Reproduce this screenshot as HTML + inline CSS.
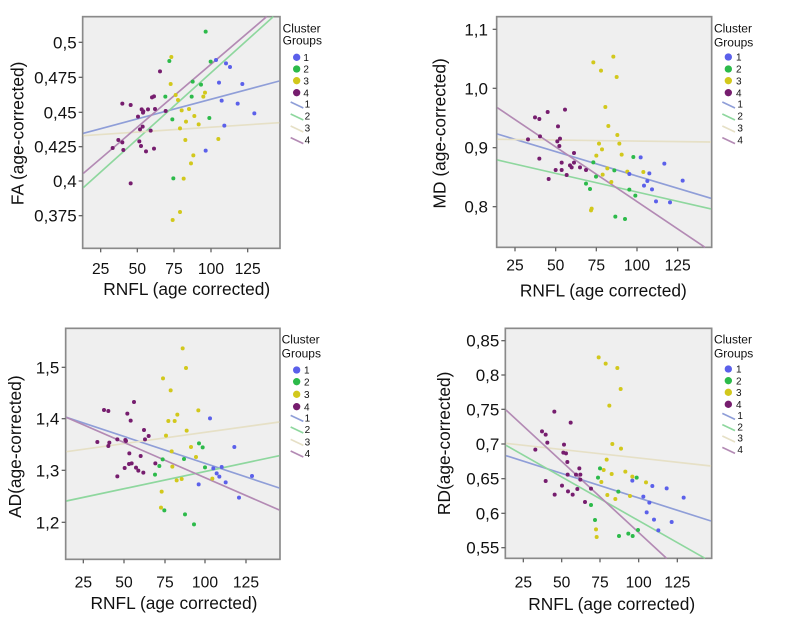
<!DOCTYPE html>
<html><head><meta charset="utf-8"><style>
html,body{margin:0;padding:0;background:#fff;}
svg{display:block;font-family:"Liberation Sans",sans-serif;}
.bx{fill:#efefef;stroke:#8a8a8a;stroke-width:5}
.tk{stroke:#666;stroke-width:4}
.yt{font-size:51px;text-anchor:end;fill:#111}
.xt{font-size:47px;text-anchor:middle;fill:#111}
.ti{font-size:52px;text-anchor:middle;fill:#111}
.lg{font-size:36px;fill:#111}
.ln{font-size:30px;fill:#111}
.b{fill:#5b60ea}.g{fill:#2cba4a}.y{fill:#d2c81c}.p{fill:#761d6e}
.lb{stroke:#8f9ed8;stroke-width:5;fill:none}.lgn{stroke:#8ed79e;stroke-width:5;fill:none}
.ly{stroke:#e6e0c6;stroke-width:5;fill:none}.lp{stroke:#b38ab4;stroke-width:5;fill:none}
</style></head><body>
<svg width="800" height="622" viewBox="0 0 800 622" xmlns="http://www.w3.org/2000/svg">

<!-- Panel 1 FA -->
<g transform="translate(0,0) scale(0.33333)">
<rect class="bx" x="248" y="50" width="592" height="695"/>
<g class="tk"><line x1="236" y1="127" x2="248" y2="127"/><line x1="236" y1="232" x2="248" y2="232"/><line x1="236" y1="337" x2="248" y2="337"/><line x1="236" y1="440" x2="248" y2="440"/><line x1="236" y1="543" x2="248" y2="543"/><line x1="236" y1="647" x2="248" y2="647"/>
<line x1="302" y1="745" x2="302" y2="757"/><line x1="412" y1="745" x2="412" y2="757"/><line x1="522" y1="745" x2="522" y2="757"/><line x1="633" y1="745" x2="633" y2="757"/><line x1="743" y1="745" x2="743" y2="757"/></g>
<text class="yt" x="230" y="145">0,5</text><text class="yt" x="230" y="250">0,475</text><text class="yt" x="230" y="355">0,45</text><text class="yt" x="230" y="458">0,425</text><text class="yt" x="230" y="561">0,4</text><text class="yt" x="230" y="665">0,375</text>
<text class="xt" x="302" y="822">25</text><text class="xt" x="412" y="822">50</text><text class="xt" x="522" y="822">75</text><text class="xt" x="633" y="822">100</text><text class="xt" x="743" y="822">125</text>
<text class="ti" x="560" y="885">RNFL (age corrected)</text>
<text class="ti" transform="translate(70,400) rotate(-90)">FA (age-corrected)</text>
<line class="lb" x1="250" y1="400" x2="838" y2="243"/><line class="lgn" x1="250" y1="563" x2="820" y2="50"/><line class="ly" x1="250" y1="407" x2="838" y2="368"/><line class="lp" x1="250" y1="520" x2="800" y2="50"/>
<g class="p"><circle cx="338" cy="444" r="6"/><circle cx="355" cy="420" r="6"/><circle cx="367" cy="427" r="6"/><circle cx="370" cy="450" r="6"/><circle cx="367" cy="311" r="6"/><circle cx="392" cy="315" r="6"/><circle cx="392" cy="550" r="6"/><circle cx="414" cy="350" r="6"/><circle cx="418" cy="424" r="6"/><circle cx="420" cy="388" r="6"/><circle cx="423" cy="438" r="6"/><circle cx="428" cy="380" r="6"/><circle cx="430" cy="334" r="6"/><circle cx="429" cy="338" r="6"/><circle cx="438" cy="454" r="6"/><circle cx="444" cy="328" r="6"/><circle cx="452" cy="392" r="6"/><circle cx="456" cy="292" r="6"/><circle cx="462" cy="289" r="6"/><circle cx="465" cy="327" r="6"/><circle cx="462" cy="446" r="6"/><circle cx="480" cy="214" r="6"/><circle cx="497" cy="333" r="6"/><circle cx="425" cy="328" r="6"/></g>
<g class="g"><circle cx="617" cy="95" r="6"/><circle cx="508" cy="183" r="6"/><circle cx="496" cy="290" r="6"/><circle cx="575" cy="290" r="6"/><circle cx="578" cy="245" r="6"/><circle cx="603" cy="254" r="6"/><circle cx="632" cy="185" r="6"/><circle cx="517" cy="358" r="6"/><circle cx="628" cy="354" r="6"/><circle cx="520" cy="535" r="6"/></g>
<g class="y"><circle cx="514" cy="171" r="6"/><circle cx="512" cy="252" r="6"/><circle cx="527" cy="285" r="6"/><circle cx="534" cy="300" r="6"/><circle cx="545" cy="331" r="6"/><circle cx="567" cy="327" r="6"/><circle cx="558" cy="365" r="6"/><circle cx="540" cy="385" r="6"/><circle cx="583" cy="348" r="6"/><circle cx="596" cy="373" r="6"/><circle cx="610" cy="290" r="6"/><circle cx="615" cy="278" r="6"/><circle cx="556" cy="420" r="6"/><circle cx="580" cy="466" r="6"/><circle cx="573" cy="490" r="6"/><circle cx="551" cy="536" r="6"/><circle cx="540" cy="636" r="6"/><circle cx="518" cy="660" r="6"/><circle cx="655" cy="417" r="6"/></g>
<g class="b"><circle cx="648" cy="180" r="6"/><circle cx="678" cy="190" r="6"/><circle cx="690" cy="201" r="6"/><circle cx="657" cy="248" r="6"/><circle cx="727" cy="252" r="6"/><circle cx="665" cy="302" r="6"/><circle cx="713" cy="311" r="6"/><circle cx="763" cy="340" r="6"/><circle cx="673" cy="377" r="6"/><circle cx="617" cy="452" r="6"/></g>
<text class="lg" x="848" y="98">Cluster</text><text class="lg" x="848" y="134">Groups</text>
<circle class="b" cx="890" cy="172" r="11"/><circle class="g" cx="890" cy="207" r="11"/><circle class="y" cx="890" cy="242" r="11"/><circle class="p" cx="890" cy="278" r="11"/>
<text class="ln" x="910" y="183">1</text><text class="ln" x="910" y="218">2</text><text class="ln" x="910" y="253">3</text><text class="ln" x="910" y="289">4</text>
<line class="lb" x1="872" y1="306" x2="910" y2="324"/><line class="lgn" x1="872" y1="342" x2="910" y2="360"/><line class="ly" x1="872" y1="378" x2="910" y2="396"/><line class="lp" x1="872" y1="413" x2="910" y2="431"/>
<text class="ln" x="914" y="323">1</text><text class="ln" x="914" y="359">2</text><text class="ln" x="914" y="395">3</text><text class="ln" x="914" y="430">4</text>
</g>

<!-- Panel 2 MD -->
<g transform="translate(400,0) scale(0.33333)">
<rect class="bx" x="290" y="50" width="645" height="692"/>
<g class="tk"><line x1="278" y1="88" x2="290" y2="88"/><line x1="278" y1="265" x2="290" y2="265"/><line x1="278" y1="443" x2="290" y2="443"/><line x1="278" y1="620" x2="290" y2="620"/>
<line x1="345" y1="742" x2="345" y2="754"/><line x1="467" y1="742" x2="467" y2="754"/><line x1="589" y1="742" x2="589" y2="754"/><line x1="711" y1="742" x2="711" y2="754"/><line x1="833" y1="742" x2="833" y2="754"/></g>
<text class="yt" x="264" y="106">1,1</text><text class="yt" x="264" y="283">1,0</text><text class="yt" x="264" y="461">0,9</text><text class="yt" x="264" y="638">0,8</text>
<text class="xt" x="345" y="812">25</text><text class="xt" x="467" y="812">50</text><text class="xt" x="589" y="812">75</text><text class="xt" x="711" y="812">100</text><text class="xt" x="833" y="812">125</text>
<text class="ti" x="610" y="890">RNFL (age corrected)</text>
<text class="ti" transform="translate(137,400) rotate(-90)">MD (age-corrected)</text>
<line class="lb" x1="292" y1="402" x2="933" y2="595"/><line class="lgn" x1="292" y1="480" x2="933" y2="627"/><line class="ly" x1="292" y1="418" x2="933" y2="426"/><line class="lp" x1="292" y1="323" x2="915" y2="742"/>
<g class="p"><circle cx="384" cy="418" r="6"/><circle cx="405" cy="352" r="6"/><circle cx="418" cy="357" r="6"/><circle cx="420" cy="409" r="6"/><circle cx="418" cy="476" r="6"/><circle cx="443" cy="336" r="6"/><circle cx="446" cy="537" r="6"/><circle cx="474" cy="379" r="6"/><circle cx="478" cy="438" r="6"/><circle cx="480" cy="416" r="6"/><circle cx="472" cy="424" r="6"/><circle cx="485" cy="510" r="6"/><circle cx="485" cy="488" r="6"/><circle cx="495" cy="329" r="6"/><circle cx="500" cy="525" r="6"/><circle cx="510" cy="496" r="6"/><circle cx="515" cy="502" r="6"/><circle cx="522" cy="459" r="6"/><circle cx="522" cy="488" r="6"/><circle cx="540" cy="502" r="6"/><circle cx="558" cy="510" r="6"/><circle cx="467" cy="510" r="6"/></g>
<g class="y"><circle cx="580" cy="187" r="6"/><circle cx="640" cy="170" r="6"/><circle cx="603" cy="212" r="6"/><circle cx="650" cy="231" r="6"/><circle cx="616" cy="321" r="6"/><circle cx="625" cy="378" r="6"/><circle cx="652" cy="405" r="6"/><circle cx="597" cy="431" r="6"/><circle cx="606" cy="448" r="6"/><circle cx="589" cy="467" r="6"/><circle cx="658" cy="431" r="6"/><circle cx="665" cy="464" r="6"/><circle cx="622" cy="505" r="6"/><circle cx="608" cy="524" r="6"/><circle cx="634" cy="546" r="6"/><circle cx="682" cy="515" r="6"/><circle cx="730" cy="516" r="6"/><circle cx="575" cy="626" r="6"/><circle cx="573" cy="631" r="6"/></g>
<g class="g"><circle cx="580" cy="487" r="6"/><circle cx="588" cy="530" r="6"/><circle cx="558" cy="551" r="6"/><circle cx="570" cy="567" r="6"/><circle cx="643" cy="511" r="6"/><circle cx="700" cy="471" r="6"/><circle cx="688" cy="569" r="6"/><circle cx="706" cy="587" r="6"/><circle cx="646" cy="650" r="6"/><circle cx="675" cy="657" r="6"/></g>
<g class="b"><circle cx="722" cy="472" r="6"/><circle cx="793" cy="491" r="6"/><circle cx="848" cy="542" r="6"/><circle cx="748" cy="520" r="6"/><circle cx="742" cy="543" r="6"/><circle cx="732" cy="557" r="6"/><circle cx="756" cy="568" r="6"/><circle cx="688" cy="522" r="6"/><circle cx="768" cy="604" r="6"/><circle cx="810" cy="607" r="6"/></g>
<text class="lg" x="942" y="98">Cluster</text><text class="lg" x="942" y="140">Groups</text>
<circle class="b" cx="985" cy="171" r="11"/><circle class="g" cx="985" cy="207" r="11"/><circle class="y" cx="985" cy="242" r="11"/><circle class="p" cx="985" cy="278" r="11"/>
<text class="ln" x="1008" y="182">1</text><text class="ln" x="1008" y="218">2</text><text class="ln" x="1008" y="253">3</text><text class="ln" x="1008" y="289">4</text>
<line class="lb" x1="967" y1="306" x2="1005" y2="324"/><line class="lgn" x1="967" y1="342" x2="1005" y2="360"/><line class="ly" x1="967" y1="378" x2="1005" y2="396"/><line class="lp" x1="967" y1="413" x2="1005" y2="431"/>
<text class="ln" x="1012" y="323">1</text><text class="ln" x="1012" y="359">2</text><text class="ln" x="1012" y="395">3</text><text class="ln" x="1012" y="430">4</text>
</g>

<!-- Panel 3 AD -->
<g transform="translate(0,310) scale(0.33333)">
<rect class="bx" x="197" y="55" width="643" height="693"/>
<g class="tk"><line x1="185" y1="172" x2="197" y2="172"/><line x1="185" y1="326" x2="197" y2="326"/><line x1="185" y1="481" x2="197" y2="481"/><line x1="185" y1="637" x2="197" y2="637"/>
<line x1="250" y1="748" x2="250" y2="760"/><line x1="372" y1="748" x2="372" y2="760"/><line x1="495" y1="748" x2="495" y2="760"/><line x1="615" y1="748" x2="615" y2="760"/><line x1="738" y1="748" x2="738" y2="760"/></g>
<text class="yt" x="178" y="190">1,5</text><text class="yt" x="178" y="344">1,4</text><text class="yt" x="178" y="499">1,3</text><text class="yt" x="178" y="655">1,2</text>
<text class="xt" x="250" y="832">25</text><text class="xt" x="372" y="832">50</text><text class="xt" x="495" y="832">75</text><text class="xt" x="615" y="832">100</text><text class="xt" x="738" y="832">125</text>
<text class="ti" x="522" y="897">RNFL (age corrected)</text>
<text class="ti" transform="translate(63,410) rotate(-90)">AD(age-corrected)</text>
<line class="lb" x1="199" y1="322" x2="838" y2="534"/><line class="lgn" x1="199" y1="573" x2="838" y2="437"/><line class="ly" x1="199" y1="425" x2="838" y2="336"/><line class="lp" x1="199" y1="322" x2="838" y2="600"/>
<g class="p"><circle cx="292" cy="396" r="6"/><circle cx="312" cy="300" r="6"/><circle cx="325" cy="303" r="6"/><circle cx="325" cy="408" r="6"/><circle cx="328" cy="398" r="6"/><circle cx="352" cy="388" r="6"/><circle cx="352" cy="499" r="6"/><circle cx="376" cy="390" r="6"/><circle cx="378" cy="393" r="6"/><circle cx="382" cy="311" r="6"/><circle cx="388" cy="430" r="6"/><circle cx="392" cy="332" r="6"/><circle cx="395" cy="460" r="6"/><circle cx="374" cy="474" r="6"/><circle cx="402" cy="276" r="6"/><circle cx="408" cy="473" r="6"/><circle cx="415" cy="482" r="6"/><circle cx="422" cy="438" r="6"/><circle cx="430" cy="488" r="6"/><circle cx="432" cy="360" r="6"/><circle cx="435" cy="388" r="6"/><circle cx="446" cy="378" r="6"/><circle cx="466" cy="460" r="6"/><circle cx="387" cy="462" r="6"/></g>
<g class="y"><circle cx="548" cy="115" r="6"/><circle cx="558" cy="174" r="6"/><circle cx="489" cy="205" r="6"/><circle cx="512" cy="241" r="6"/><circle cx="532" cy="314" r="6"/><circle cx="505" cy="333" r="6"/><circle cx="524" cy="333" r="6"/><circle cx="560" cy="362" r="6"/><circle cx="595" cy="301" r="6"/><circle cx="498" cy="377" r="6"/><circle cx="515" cy="424" r="6"/><circle cx="573" cy="411" r="6"/><circle cx="588" cy="441" r="6"/><circle cx="517" cy="470" r="6"/><circle cx="530" cy="511" r="6"/><circle cx="545" cy="507" r="6"/><circle cx="637" cy="506" r="6"/><circle cx="485" cy="545" r="6"/><circle cx="483" cy="593" r="6"/></g>
<g class="g"><circle cx="465" cy="494" r="6"/><circle cx="478" cy="468" r="6"/><circle cx="488" cy="448" r="6"/><circle cx="552" cy="447" r="6"/><circle cx="597" cy="400" r="6"/><circle cx="608" cy="412" r="6"/><circle cx="615" cy="472" r="6"/><circle cx="493" cy="601" r="6"/><circle cx="555" cy="613" r="6"/><circle cx="582" cy="643" r="6"/></g>
<g class="b"><circle cx="630" cy="325" r="6"/><circle cx="703" cy="411" r="6"/><circle cx="640" cy="475" r="6"/><circle cx="650" cy="490" r="6"/><circle cx="658" cy="500" r="6"/><circle cx="665" cy="471" r="6"/><circle cx="677" cy="517" r="6"/><circle cx="596" cy="523" r="6"/><circle cx="756" cy="498" r="6"/><circle cx="717" cy="563" r="6"/></g>
<text class="lg" x="845" y="100">Cluster</text><text class="lg" x="845" y="142">Groups</text>
<circle class="b" cx="890" cy="180" r="11"/><circle class="g" cx="890" cy="215" r="11"/><circle class="y" cx="890" cy="253" r="11"/><circle class="p" cx="890" cy="290" r="11"/>
<text class="ln" x="912" y="191">1</text><text class="ln" x="912" y="226">2</text><text class="ln" x="912" y="264">3</text><text class="ln" x="912" y="301">4</text>
<line class="lb" x1="872" y1="316" x2="910" y2="334"/><line class="lgn" x1="872" y1="351" x2="910" y2="369"/><line class="ly" x1="872" y1="388" x2="910" y2="406"/><line class="lp" x1="872" y1="423" x2="910" y2="441"/>
<text class="ln" x="914" y="334">1</text><text class="ln" x="914" y="369">2</text><text class="ln" x="914" y="406">3</text><text class="ln" x="914" y="441">4</text>
</g>

<!-- Panel 4 RD -->
<g transform="translate(400,310) scale(0.33333)">
<rect class="bx" x="316" y="55" width="619" height="690"/>
<g class="tk"><line x1="304" y1="92" x2="316" y2="92"/><line x1="304" y1="195" x2="316" y2="195"/><line x1="304" y1="298" x2="316" y2="298"/><line x1="304" y1="402" x2="316" y2="402"/><line x1="304" y1="506" x2="316" y2="506"/><line x1="304" y1="610" x2="316" y2="610"/><line x1="304" y1="713" x2="316" y2="713"/>
<line x1="370" y1="745" x2="370" y2="757"/><line x1="485" y1="745" x2="485" y2="757"/><line x1="600" y1="745" x2="600" y2="757"/><line x1="716" y1="745" x2="716" y2="757"/><line x1="832" y1="745" x2="832" y2="757"/></g>
<text class="yt" x="298" y="110">0,85</text><text class="yt" x="298" y="213">0,8</text><text class="yt" x="298" y="316">0,75</text><text class="yt" x="298" y="420">0,7</text><text class="yt" x="298" y="524">0,65</text><text class="yt" x="298" y="628">0,6</text><text class="yt" x="298" y="731">0,55</text>
<text class="xt" x="370" y="832">25</text><text class="xt" x="485" y="832">50</text><text class="xt" x="600" y="832">75</text><text class="xt" x="716" y="832">100</text><text class="xt" x="832" y="832">125</text>
<text class="ti" x="635" y="900">RNFL (age corrected)</text>
<text class="ti" transform="translate(150,400) rotate(-90)">RD(age-corrected)</text>
<line class="lb" x1="318" y1="437" x2="933" y2="633"/><line class="lgn" x1="318" y1="406" x2="915" y2="745"/><line class="ly" x1="318" y1="400" x2="933" y2="468"/><line class="lp" x1="318" y1="300" x2="800" y2="745"/>
<g class="p"><circle cx="406" cy="419" r="6"/><circle cx="426" cy="364" r="6"/><circle cx="437" cy="374" r="6"/><circle cx="442" cy="398" r="6"/><circle cx="437" cy="513" r="6"/><circle cx="463" cy="305" r="6"/><circle cx="464" cy="554" r="6"/><circle cx="486" cy="527" r="6"/><circle cx="492" cy="404" r="6"/><circle cx="490" cy="428" r="6"/><circle cx="498" cy="430" r="6"/><circle cx="502" cy="456" r="6"/><circle cx="503" cy="494" r="6"/><circle cx="504" cy="544" r="6"/><circle cx="512" cy="338" r="6"/><circle cx="518" cy="554" r="6"/><circle cx="528" cy="494" r="6"/><circle cx="532" cy="537" r="6"/><circle cx="538" cy="475" r="6"/><circle cx="541" cy="494" r="6"/><circle cx="541" cy="509" r="6"/><circle cx="555" cy="576" r="6"/><circle cx="573" cy="536" r="6"/></g>
<g class="y"><circle cx="596" cy="142" r="6"/><circle cx="617" cy="161" r="6"/><circle cx="652" cy="174" r="6"/><circle cx="662" cy="237" r="6"/><circle cx="628" cy="287" r="6"/><circle cx="637" cy="402" r="6"/><circle cx="663" cy="416" r="6"/><circle cx="620" cy="449" r="6"/><circle cx="611" cy="480" r="6"/><circle cx="635" cy="492" r="6"/><circle cx="676" cy="485" r="6"/><circle cx="697" cy="500" r="6"/><circle cx="738" cy="517" r="6"/><circle cx="604" cy="516" r="6"/><circle cx="622" cy="555" r="6"/><circle cx="646" cy="567" r="6"/><circle cx="690" cy="558" r="6"/><circle cx="588" cy="658" r="6"/><circle cx="590" cy="681" r="6"/></g>
<g class="g"><circle cx="600" cy="475" r="6"/><circle cx="594" cy="503" r="6"/><circle cx="710" cy="503" r="6"/><circle cx="655" cy="545" r="6"/><circle cx="573" cy="585" r="6"/><circle cx="585" cy="630" r="6"/><circle cx="657" cy="678" r="6"/><circle cx="685" cy="671" r="6"/><circle cx="698" cy="678" r="6"/><circle cx="714" cy="660" r="6"/></g>
<g class="b"><circle cx="697" cy="512" r="6"/><circle cx="757" cy="528" r="6"/><circle cx="800" cy="535" r="6"/><circle cx="851" cy="563" r="6"/><circle cx="730" cy="560" r="6"/><circle cx="748" cy="578" r="6"/><circle cx="740" cy="607" r="6"/><circle cx="762" cy="629" r="6"/><circle cx="775" cy="661" r="6"/><circle cx="815" cy="636" r="6"/></g>
<text class="lg" x="942" y="100">Cluster</text><text class="lg" x="942" y="142">Groups</text>
<circle class="b" cx="985" cy="177" r="11"/><circle class="g" cx="985" cy="212" r="11"/><circle class="y" cx="985" cy="247" r="11"/><circle class="p" cx="985" cy="283" r="11"/>
<text class="ln" x="1008" y="188">1</text><text class="ln" x="1008" y="223">2</text><text class="ln" x="1008" y="258">3</text><text class="ln" x="1008" y="294">4</text>
<line class="lb" x1="967" y1="310" x2="1005" y2="328"/><line class="lgn" x1="967" y1="344" x2="1005" y2="362"/><line class="ly" x1="967" y1="378" x2="1005" y2="396"/><line class="lp" x1="967" y1="412" x2="1005" y2="430"/>
<text class="ln" x="1012" y="327">1</text><text class="ln" x="1012" y="361">2</text><text class="ln" x="1012" y="395">3</text><text class="ln" x="1012" y="429">4</text>
</g>
</svg>
</body></html>
